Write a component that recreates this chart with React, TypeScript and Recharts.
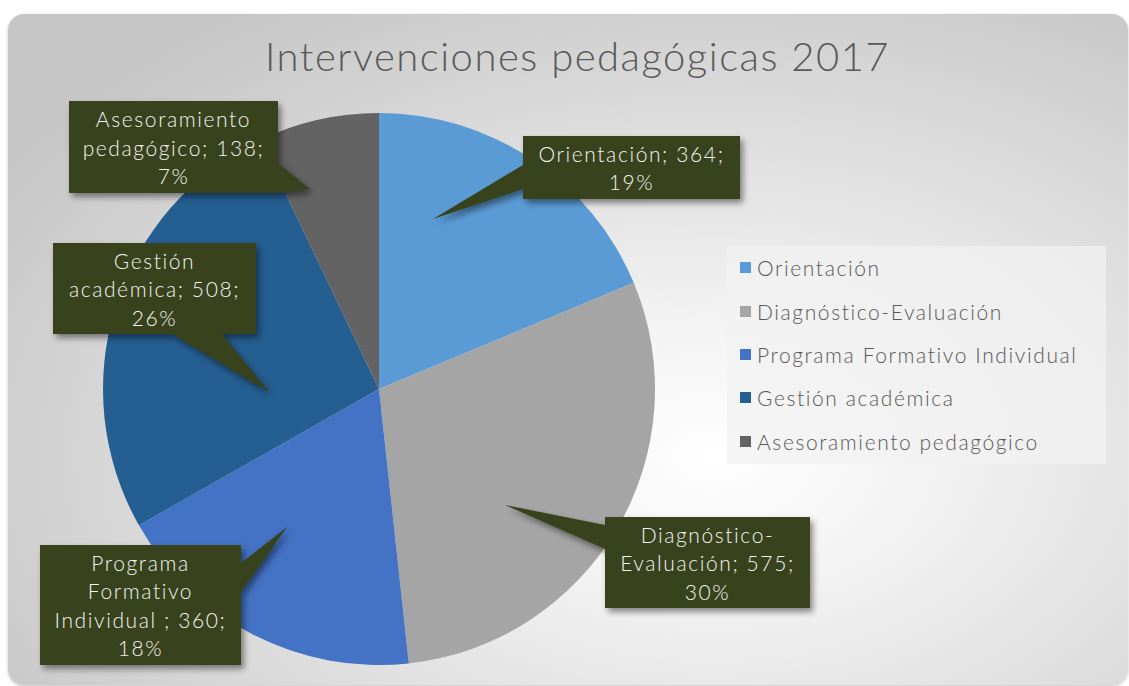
import { PieChart, Pie, Cell, Legend } from "recharts";

const categories = [
  "Orientación",
  "Diagnóstico-Evaluación",
  "Programa Formativo Individual",
  "Gestión académica",
  "Asesoramiento pedagógico",
];
const labelNames = [
  "Orientación",
  "Diagnóstico-Evaluación",
  "Programa Formativo Individual ",
  "Gestión académica",
  "Asesoramiento pedagógico",
];
const counts = [364, 575, 360, 508, 138];
const shownPercents = [19, 30, 18, 26, 7];
const colors = ["#5B9BD5", "#A5A5A5", "#4472C4", "#255E91", "#636363"];

// callout boxes, relative to the pie centre: box x/y/w/h, pointer base (2 pts) and tip
const callouts = [
  { x: 144, y: -253, w: 217, h: 63, base: [[144, -224], [144, -200]], tip: [54, -170] },
  { x: 226, y: 128, w: 205, h: 91, base: [[226, 136], [226, 160]], tip: [126, 116] },
  { x: -339, y: 156, w: 201, h: 120, base: [[-138, 174], [-138, 203]], tip: [-92, 138] },
  { x: -326, y: -146, w: 203, h: 91, base: [[-207, -55], [-157, -55]], tip: [-110, 3] },
  { x: -310, y: -288, w: 209, h: 92, base: [[-101, -226], [-101, -196]], tip: [-69, -200] },
];

const FONT = "Lato, 'Open Sans', sans-serif";
const WEIGHT = 300;
const SPACING = 1.6;
const CX = 379;
const CY = 389;
const R = 276;

const data = categories.map((name, i) => ({ name, value: counts[i] }));

let ctx: CanvasRenderingContext2D | null = null;
function textWidth(s: string, size: number) {
  if (!ctx) ctx = document.createElement("canvas").getContext("2d");
  if (!ctx) return s.length * size * 0.5;
  ctx.font = `${WEIGHT} ${size}px Lato`;
  return ctx.measureText(s).width + s.length * SPACING;
}

function wrap(text: string, maxW: number, size: number) {
  const tokens: string[] = [];
  text.split(" ").forEach((word, wi, arr) => {
    const parts = word.split(/(?<=-)/);
    parts.forEach((p, pi) => {
      const last = pi === parts.length - 1 && wi < arr.length - 1;
      tokens.push(last ? p + " " : p);
    });
  });
  const lines: string[] = [];
  let cur = "";
  tokens.forEach((t) => {
    const next = cur + t;
    if (cur && textWidth(next.trimEnd(), size) > maxW) {
      lines.push(cur.trimEnd());
      cur = t;
    } else {
      cur = next;
    }
  });
  if (cur) lines.push(cur.trimEnd());
  return lines;
}

function renderCallout(props: any) {
  const { cx, cy, index } = props;
  const c = callouts[index];
  const size = 21;
  const text = `${labelNames[index]}; ${counts[index]}; ${shownPercents[index]}%`;
  const lines = wrap(text, c.w - 12, size);
  const lh = 28.5;
  const top = cy + c.y + c.h / 2 - (lines.length * lh) / 2;
  const pts = [...c.base, c.tip].map(([px, py]) => `${cx + px},${cy + py}`).join(" ");
  return (
    <g key={`callout-${index}`}>
      <defs>
        <filter id={`sh${index}`} x="-20%" y="-20%" width="140%" height="140%">
          <feDropShadow dx="3" dy="4" stdDeviation="3" floodColor="#000" floodOpacity="0.45" />
        </filter>
      </defs>
      <g filter={`url(#sh${index})`}>
        <polygon points={pts} fill="#37431F" />
        <rect x={cx + c.x} y={cy + c.y} width={c.w} height={c.h} fill="#37431F" />
      </g>
      {lines.map((l, i) => (
        <text
          key={i}
          x={cx + c.x + c.w / 2}
          y={top + lh * i + lh / 2}
          textAnchor="middle"
          dominantBaseline="central"
          fill="#F2F2F2"
          fontFamily={FONT}
          fontWeight={WEIGHT}
          fontSize={size}
          letterSpacing={SPACING}
        >
          {l}
        </text>
      ))}
    </g>
  );
}

function renderLegend(props: any) {
  const payload = props.payload || [];
  return (
    <div
      style={{
        background: "rgba(242,242,242,0.75)",
        width: 379,
        height: 218,
        boxSizing: "border-box",
        paddingTop: 0,
        paddingLeft: 13,
      }}
    >
      {categories.map((name, i) => {
        const entry = payload.find((p: any) => p.value === name);
        return (
          <div
            key={name}
            style={{
              display: "flex",
              alignItems: "center",
              height: 43.4,
              fontFamily: FONT,
              fontWeight: WEIGHT,
              fontSize: 21,
              letterSpacing: SPACING,
              color: "#595959",
            }}
          >
            <span style={{ width: 11, height: 11, background: entry?.color || colors[i], marginRight: 6, display: "inline-block" }} />
            <span>{name}</span>
          </div>
        );
      })}
    </div>
  );
}

export default function App() {
  return (
    <div style={{ position: "absolute", left: 0, top: 0, width: 1129, height: 686, overflow: "hidden", background: "#fff" }}>
      <div
        style={{
          position: "absolute",
          left: 8,
          top: 14,
          width: 1120,
          height: 671,
          borderRadius: 16,
          background: "radial-gradient(ellipse 75% 80% at 63% 66%, #ffffff 0%, #f3f3f3 25%, #dedede 60%, #c6c6c6 100%)",
          boxShadow: "0 1px 3px rgba(0,0,0,0.25)",
        }}
      />
      <div
        style={{
          position: "absolute",
          left: 0,
          top: 32,
          width: 1155,
          textAlign: "center",
          fontFamily: FONT,
          fontWeight: WEIGHT,
          fontSize: 40,
          color: "#595959",
          letterSpacing: 1.5,
        }}
      >
        Intervenciones pedagógicas 2017
      </div>
      <div style={{ position: "absolute", left: 0, top: 0 }}>
        <PieChart width={1129} height={686} margin={{ top: 0, right: 0, bottom: 0, left: 0 }}>
          <Pie
            data={data}
            dataKey="value"
            nameKey="name"
            cx={CX}
            cy={CY}
            outerRadius={R}
            startAngle={90}
            endAngle={-270}
            stroke="none"
            isAnimationActive={false}
            labelLine={false}
            label={renderCallout}
          >
            {data.map((d, i) => (
              <Cell key={d.name} fill={colors[i]} />
            ))}
          </Pie>
          <Legend
            content={renderLegend}
            wrapperStyle={{ position: "absolute", left: 727, top: 246, width: 379, height: 218, bottom: "auto" }}
          />
        </PieChart>
      </div>
    </div>
  );
}
